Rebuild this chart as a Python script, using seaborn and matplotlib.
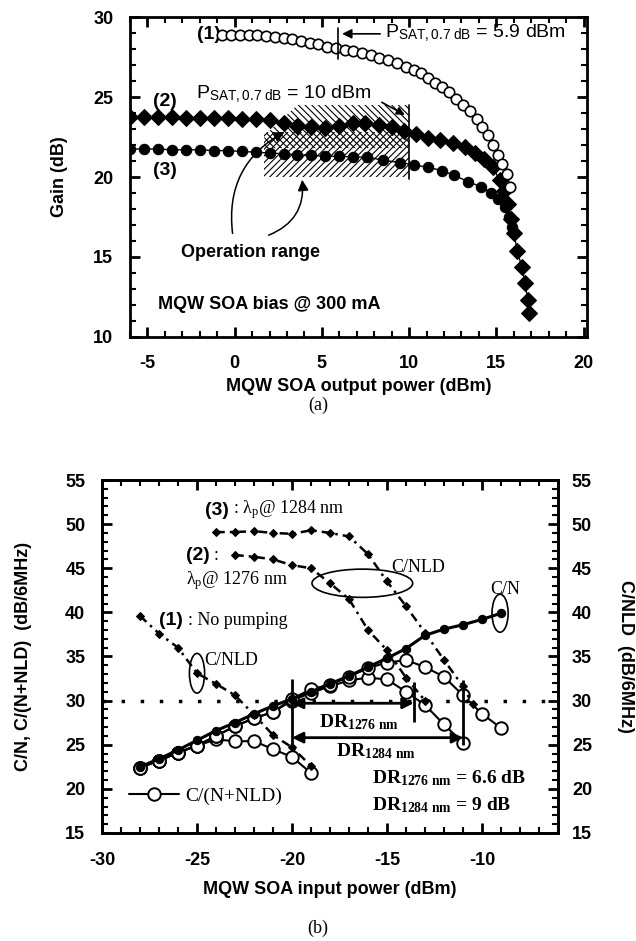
import matplotlib
matplotlib.use("Agg")
import matplotlib.pyplot as plt
import seaborn as sns
from matplotlib.patches import Ellipse, Polygon
from matplotlib.ticker import MultipleLocator

# -------------------------------
# Panel (a): gain vs SOA output power
# -------------------------------
pout_1 = [-0.7, -0.2, 0.3, 0.8, 1.3, 1.8, 2.3, 2.8, 3.3, 3.8, 4.3, 4.8, 5.3, 5.8, 6.3,
          6.8, 7.3, 7.8, 8.3, 8.8, 9.3, 9.8, 10.3, 10.7, 11.1, 11.5, 11.9, 12.3, 12.7,
          13.1, 13.5, 13.9, 14.2, 14.5, 14.8, 15.1, 15.35, 15.6, 15.8]
gain_1 = [28.9, 28.9, 28.9, 28.88, 28.85, 28.8, 28.75, 28.7, 28.6, 28.5, 28.4, 28.3, 28.15,
          28.05, 27.95, 27.85, 27.75, 27.6, 27.45, 27.3, 27.1, 26.9, 26.7, 26.5, 26.2, 25.9,
          25.6, 25.3, 24.9, 24.5, 24.1, 23.6, 23.1, 22.6, 22.0, 21.4, 20.8, 20.2, 19.4]

pout_2 = [-6.0, -5.2, -4.4, -3.6, -2.8, -2.0, -1.2, -0.4, 0.4, 1.2, 2.0, 2.8, 3.6, 4.4, 5.2,
          6.0, 6.8, 7.5, 8.3, 9.0, 9.7, 10.4, 11.1, 11.8, 12.5, 13.2, 13.8, 14.3, 14.8, 15.2,
          15.45, 15.65, 15.85, 16.0, 16.2, 16.45, 16.65, 16.8, 16.9]
gain_2 = [23.75, 23.75, 23.75, 23.75, 23.7, 23.7, 23.7, 23.7, 23.65, 23.6, 23.55, 23.4, 23.2,
          23.1, 23.05, 23.2, 23.4, 23.35, 23.25, 23.1, 22.9, 22.7, 22.45, 22.3, 22.15, 21.9,
          21.5, 21.1, 20.6, 19.8, 19.1, 18.3, 17.4, 16.5, 15.4, 14.4, 13.4, 12.3, 11.5]

pout_3 = [-6.0, -5.2, -4.4, -3.6, -2.8, -2.0, -1.2, -0.4, 0.4, 1.2, 2.0, 2.8, 3.6, 4.4, 5.2,
          6.0, 6.8, 7.6, 8.5, 9.5, 10.3, 11.1, 11.9, 12.6, 13.4, 14.1, 14.7, 15.1, 15.5,
          15.7, 15.9]
gain_3 = [21.75, 21.75, 21.75, 21.7, 21.7, 21.7, 21.65, 21.65, 21.6, 21.55, 21.5, 21.45, 21.4,
          21.35, 21.3, 21.3, 21.25, 21.25, 21.05, 20.9, 20.75, 20.6, 20.4, 20.1, 19.7, 19.4,
          19.0, 18.6, 18.1, 17.5, 16.9]

# -------------------------------
# Panel (b): C/N, C/(N+NLD), C/NLD vs SOA input power
# -------------------------------
pin_cn = [-28, -27, -26, -25, -24, -23, -22, -21, -20, -19, -18, -17, -16, -15, -14, -13,
          -12, -11, -10, -9]
cn = [22.5, 23.4, 24.4, 25.5, 26.6, 27.5, 28.5, 29.4, 30.2, 31.0, 31.9, 32.8, 33.8, 34.8,
      35.9, 37.4, 38.1, 38.6, 39.2, 39.9]

pin_cnn_0 = [-28, -27, -26, -25, -24, -23, -22, -21, -20, -19]
cnn_0 = [22.4, 23.2, 24.1, 24.9, 25.6, 25.4, 25.4, 24.5, 23.6, 21.8]
pin_cnn_1276 = [-28, -27, -26, -25, -24, -23, -22, -21, -20, -19, -18, -17, -16, -15, -14,
                -13, -12, -11]
cnn_1276 = [22.4, 23.2, 24.1, 24.9, 26.0, 27.1, 28.0, 28.7, 30.0, 30.9, 31.6, 32.3, 32.6,
            32.4, 31.0, 29.5, 27.3, 25.2]
pin_cnn_1284 = [-28, -27, -26, -25, -24, -23, -22, -21, -20, -19, -18, -17, -16, -15, -14,
                -13, -12, -11, -10, -9]
cnn_1284 = [22.4, 23.2, 24.1, 24.9, 26.0, 27.1, 28.0, 28.7, 30.2, 31.3, 31.8, 32.7, 33.7,
            34.3, 34.6, 33.8, 32.7, 30.6, 28.5, 26.9]

pin_nld_0 = [-28, -27, -26, -25, -24, -23, -22, -21, -20, -19]
cnld_0 = [39.6, 37.6, 36.0, 33.1, 31.9, 30.6, 28.4, 26.1, 24.7, 22.6]
pin_nld_1276 = [-23, -22, -21, -20, -19, -18, -17, -16, -15, -14, -13]
cnld_1276 = [46.5, 46.3, 46.0, 45.35, 45.0, 43.3, 41.5, 38.0, 35.7, 32.6, 30.0]
pin_nld_1284 = [-24, -23, -22, -21, -20, -19, -18, -17, -16, -15, -14, -13, -12, -11, -10.5]
cnld_1284 = [49.1, 49.1, 49.2, 49.0, 48.9, 49.3, 49.0, 48.6, 46.6, 43.5, 40.7, 37.7, 34.6,
             31.6, 29.6]

dr_start = -20
dr_1276_end = -13.6
dr_1284_end = -11

# -------------------------------
# Style
# -------------------------------
sns.set_style("ticks")
plt.rcParams['font.family'] = ['Liberation Sans', 'DejaVu Sans']
plt.rcParams.update({
    'font.weight': 'bold',
    'font.size': 13,
    'text.color': 'black',
    'axes.labelcolor': 'black',
    'xtick.color': 'black',
    'ytick.color': 'black',
    'axes.unicode_minus': False,
    'mathtext.fontset': 'custom',
    'mathtext.rm': 'Liberation Serif:weight=normal',
    'mathtext.sf': 'Liberation Sans:weight=normal',
    'mathtext.bf': 'Liberation Serif:weight=bold',
    'mathtext.it': 'Liberation Serif:italic',
    'hatch.linewidth': 0.8,
    'hatch.color': 'black',
    'axes.linewidth': 2.0,
    'axes.edgecolor': 'black',
    'patch.edgecolor': 'black',
})
SERIF = ['Liberation Serif', 'DejaVu Serif']


def style_axes(ax, xmaj, ymaj, left=True, right=True):
    ax.xaxis.set_major_locator(MultipleLocator(xmaj))
    ax.xaxis.set_minor_locator(MultipleLocator(1))
    ax.yaxis.set_major_locator(MultipleLocator(ymaj))
    ax.yaxis.set_minor_locator(MultipleLocator(1))
    ax.tick_params(which='both', direction='in', top=True, bottom=True, left=left, right=right,
                   labelsize=13, colors='black')
    ax.tick_params(which='major', length=7, width=2.0)
    ax.tick_params(which='minor', length=4, width=1.5)
    for lbl in ax.get_xticklabels() + ax.get_yticklabels():
        lbl.set_fontweight('bold')


fig = plt.figure(figsize=(6.36, 9.41), dpi=100)
axa = fig.add_axes([0.2044, 0.6419, 0.7186, 0.34])
axb = fig.add_axes([0.1604, 0.1148, 0.717, 0.3751])

# -------------------------------
# Panel (a)
# -------------------------------
# operation range hatch
axa.add_patch(Polygon([(1.7, 20), (10, 20), (10, 22.8), (1.7, 22.8)], closed=True,
                      fill=False, hatch='/////', edgecolor='k', lw=0, zorder=1))
axa.add_patch(Polygon([(1.7, 21.8), (10, 21.8), (10, 24.5), (3.6, 24.5), (1.7, 22.6)],
                      closed=True, fill=False, hatch='\\\\\\\\\\', edgecolor='k', lw=0,
                      zorder=1))
axa.plot([10, 10], [19.9, 24.5], color='k', lw=1.2, zorder=2)

sns.lineplot(x=pout_1, y=gain_1, ax=axa, sort=False, estimator=None, color='k', lw=1,
             marker='o', markersize=7.5, markerfacecolor='white', markeredgecolor='k',
             markeredgewidth=1.2, zorder=4)
sns.lineplot(x=pout_2, y=gain_2, ax=axa, sort=False, estimator=None, color='k', lw=1,
             marker='D', markersize=8, markerfacecolor='k', markeredgecolor='k', zorder=3)
sns.lineplot(x=pout_3, y=gain_3, ax=axa, sort=False, estimator=None, color='k', lw=1,
             marker='o', markersize=7.5, markerfacecolor='k', markeredgecolor='k', zorder=3)

axa.set_xlim(-6, 20.2)
axa.set_ylim(10, 30)
style_axes(axa, 5, 5)
axa.set_xlabel('MQW SOA output power (dBm)', fontsize=13, fontweight='bold', labelpad=4)
axa.set_ylabel('Gain (dB)', fontsize=13, fontweight='bold', labelpad=18)
axa.tick_params(axis='x', pad=13)
axa.tick_params(axis='y', pad=12)

axa.text(-0.8, 28.9, '(1)', ha='right', va='center', fontsize=14, fontweight='bold')
axa.text(-4.0, 24.7, '(2)', ha='center', va='center', fontsize=14, fontweight='bold')
axa.text(-4.0, 20.4, '(3)', ha='center', va='center', fontsize=14, fontweight='bold')
axa.plot([5.9, 5.9], [27.4, 29.3], color='k', lw=1.2, zorder=5)
axa.annotate('', xy=(6.0, 28.95), xytext=(8.5, 28.95),
             arrowprops=dict(arrowstyle='-|>', color='k', lw=1.2, mutation_scale=14))
axa.text(8.6, 29.0, r'P$_{\mathsf{SAT,0.7\ dB}}$ = 5.9 dBm', ha='left', va='center',
         fontsize=14, fontweight='normal')
axa.text(-2.2, 25.2, r'P$_{\mathsf{SAT,0.7\ dB}}$ = 10 dBm', ha='left', va='center',
         fontsize=14, fontweight='normal')
axa.annotate('', xy=(9.9, 23.8), xytext=(8.3, 24.75),
             arrowprops=dict(arrowstyle='-|>', color='k', lw=1.2, mutation_scale=12))
axa.text(0.9, 15.3, 'Operation range', ha='center', va='center', fontsize=13,
         fontweight='bold')
axa.annotate('', xy=(3.0, 22.9), xytext=(-0.1, 16.3),
             arrowprops=dict(arrowstyle='-|>', color='k', lw=1.1, mutation_scale=16,
                             connectionstyle='arc3,rad=-0.35'))
axa.annotate('', xy=(3.85, 20.0), xytext=(1.8, 16.3),
             arrowprops=dict(arrowstyle='-|>', color='k', lw=1.1, mutation_scale=16,
                             connectionstyle='arc3,rad=0.4'))
axa.text(-4.4, 12.0, 'MQW SOA bias @ 300 mA', ha='left', va='center', fontsize=13,
         fontweight='bold')

fig.text(0.5, 1 - 405 / 941, '(a)', ha='center', va='center', family=SERIF, fontsize=13,
         fontweight='normal')

# -------------------------------
# Panel (b)
# -------------------------------
axb2 = axb.twinx()
axb.axhline(30, color='k', lw=2.5, ls=(0, (1, 4.5)), zorder=1)

open_kw = dict(sort=False, estimator=None, color='k', lw=1.5, marker='o', markersize=9,
               markerfacecolor='white', markeredgecolor='k', markeredgewidth=1.4, zorder=4)
sns.lineplot(x=pin_cnn_0, y=cnn_0, ax=axb, label='C/(N+NLD)', **open_kw)
sns.lineplot(x=pin_cnn_1276, y=cnn_1276, ax=axb, **open_kw)
sns.lineplot(x=pin_cnn_1284, y=cnn_1284, ax=axb, **open_kw)
sns.lineplot(x=pin_cn, y=cn, ax=axb, sort=False, estimator=None, color='k', lw=2.2,
             marker='o', markersize=6, markerfacecolor='k', markeredgecolor='k', zorder=5)

nld_kw = dict(sort=False, estimator=None, color='k', lw=1.8, ls=(0, (3.5, 2, 1, 2)),
              marker='D', markersize=4.5, markerfacecolor='k', markeredgecolor='k', zorder=3)
sns.lineplot(x=pin_nld_0, y=cnld_0, ax=axb2, **nld_kw)
sns.lineplot(x=pin_nld_1276, y=cnld_1276, ax=axb2, **nld_kw)
sns.lineplot(x=pin_nld_1284, y=cnld_1284, ax=axb2, **nld_kw)

axb.set_xlim(-30, -6)
axb.set_ylim(15, 55)
axb2.set_ylim(15, 55)
style_axes(axb, 5, 5, left=True, right=False)
style_axes(axb2, 5, 5, left=False, right=True)
axb.tick_params(axis='x', pad=14)
axb.tick_params(axis='y', pad=12)
axb2.tick_params(axis='y', pad=10)
for s in axb2.spines.values():
    s.set_linewidth(2.0)
axb.set_xlabel('MQW SOA input power (dBm)', fontsize=13, fontweight='bold', labelpad=8)
axb.set_ylabel('C/N, C/(N+NLD)  (dB/6MHz)', fontsize=13, fontweight='bold', labelpad=24)
axb2.set_ylabel('C/NLD  (dB/6MHz)', fontsize=13, fontweight='bold', rotation=270,
                labelpad=30)

leg = axb.legend(loc='lower left', bbox_to_anchor=(0.02, 0.03), frameon=False,
                 prop=dict(family=SERIF, size=14, weight='normal'), handlelength=2.6,
                 handletextpad=0.3)

# DR markers
axb.vlines([dr_start], 24.6, 32.5, color='k', lw=2, zorder=6)
axb.vlines([dr_1276_end], 27.6, 32.1, color='k', lw=2, zorder=6)
axb.vlines([dr_1284_end], 25.0, 32.3, color='k', lw=2, zorder=6)
axb.annotate('', xy=(dr_1276_end, 29.7), xytext=(dr_start, 29.7),
             arrowprops=dict(arrowstyle='<|-|>', color='k', lw=2, mutation_scale=16,
                             shrinkA=0, shrinkB=0), zorder=6)
axb.annotate('', xy=(dr_1284_end, 25.8), xytext=(dr_start, 25.8),
             arrowprops=dict(arrowstyle='<|-|>', color='k', lw=2, mutation_scale=16,
                             shrinkA=0, shrinkB=0), zorder=6)
axb.text(-16.5, 27.6, r'DR$_{\mathbf{1276\ nm}}$', ha='center', va='center', family=SERIF,
         fontsize=14, fontweight='bold')
axb.text(-15.6, 24.3, r'DR$_{\mathbf{1284\ nm}}$', ha='center', va='center', family=SERIF,
         fontsize=14, fontweight='bold')
axb.text(-15.8, 21.2, r'DR$_{\mathbf{1276\ nm}}$ = 6.6 dB', ha='left', va='center',
         family=SERIF, fontsize=14, fontweight='bold')
axb.text(-15.8, 18.2, r'DR$_{\mathbf{1284\ nm}}$ = 9 dB', ha='left', va='center',
         family=SERIF, fontsize=14, fontweight='bold')

# curve labels
axb.text(-24.6, 51.6, '(3)', ha='left', va='center', fontsize=14, fontweight='bold')
axb.text(-23.1, 51.6, r': λ$_{\mathrm{p}}$@ 1284 nm', ha='left', va='center', family=SERIF,
         fontsize=13, fontweight='normal')
axb.text(-25.6, 46.5, '(2)', ha='left', va='center', fontsize=14, fontweight='bold')
axb.text(-24.15, 46.5, ':', ha='left', va='center', family=SERIF, fontsize=13,
         fontweight='normal')
axb.text(-25.6, 43.6, r'λ$_{\mathrm{p}}$@ 1276 nm', ha='left', va='center', family=SERIF,
         fontsize=13, fontweight='normal')
axb.text(-27.0, 39.1, '(1)', ha='left', va='center', fontsize=14, fontweight='bold')
axb.text(-25.5, 39.1, ': No pumping', ha='left', va='center', family=SERIF, fontsize=13,
         fontweight='normal')
axb.text(-24.6, 34.6, 'C/NLD', ha='left', va='center', family=SERIF, fontsize=13,
         fontweight='normal')
axb.text(-14.8, 45.1, 'C/NLD', ha='left', va='center', family=SERIF, fontsize=13,
         fontweight='normal')
axb.text(-8.8, 42.6, 'C/N', ha='center', va='center', family=SERIF, fontsize=13,
         fontweight='normal')

axb.add_patch(Ellipse((-25.0, 33.1), 0.8, 4.5, fill=False, edgecolor='k', lw=1.2,
                      zorder=6))
axb.add_patch(Ellipse((-16.3, 43.3), 5.3, 3.2, fill=False, edgecolor='k', lw=1.2,
                      zorder=6))
axb.add_patch(Ellipse((-9.05, 39.9), 0.85, 4.3, fill=False, edgecolor='k', lw=1.2,
                      zorder=6))

fig.text(0.5, 1 - 928 / 941, '(b)', ha='center', va='center', family=SERIF, fontsize=13,
         fontweight='normal')

fig.savefig('out.png', dpi=100)
